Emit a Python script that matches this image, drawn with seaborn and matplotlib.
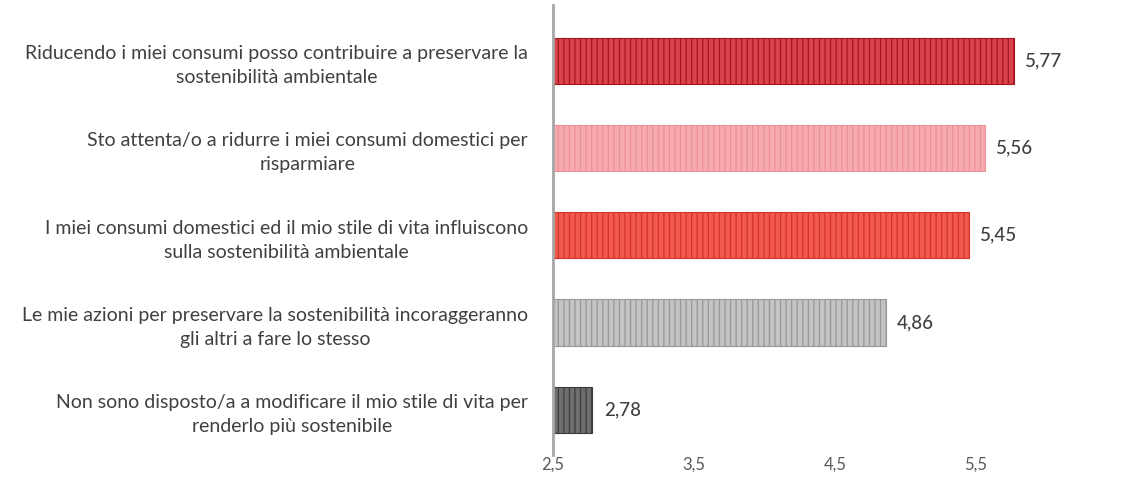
import matplotlib
matplotlib.use("Agg")
import matplotlib.pyplot as plt
import seaborn as sns
import pandas as pd

categories = [
    "Riducendo i miei consumi posso contribuire a preservare la\nsostenibilità ambientale",
    "Sto attenta/o a ridurre i miei consumi domestici per\nrisparmiare",
    "I miei consumi domestici ed il mio stile di vita influiscono\nsulla sostenibilità ambientale",
    "Le mie azioni per preservare la sostenibilità incoraggeranno\ngli altri a fare lo stesso",
    "Non sono disposto/a a modificare il mio stile di vita per\nrenderlo più sostenibile",
]
values = [5.77, 5.56, 5.45, 4.86, 2.78]
tick_values = [2.5, 3.5, 4.5, 5.5]

face_colors = ["#d9434b", "#f7aab0", "#f25a4e", "#c4c4c4", "#6e6e6e"]
hatch_colors = ["#a8141e", "#ec9098", "#d2342a", "#979797", "#3c3c3c"]

sns.set_theme(style="white")
plt.rcParams["font.family"] = ["Lato", "DejaVu Sans"]
plt.rcParams["hatch.linewidth"] = 0.9

df = pd.DataFrame({"cat": categories, "val": values})

fig = plt.figure(figsize=(11.33, 4.93), dpi=100)
ax = fig.add_axes([0.488, 0.077, 0.498, 0.913])

sns.barplot(data=df, y="cat", x="val", orient="h", ax=ax, width=0.53,
            palette=face_colors, hue="cat", legend=False)

for patch, fc, hc in zip(ax.patches, face_colors, hatch_colors):
    patch.set_facecolor(fc)
    patch.set_edgecolor(hc)
    patch.set_hatch("|||")
    patch.set_linewidth(0.8)

ax.set_xlim(2.5, 6.5)
ax.set_ylim(4.52, -0.64)
ax.set_xticks(tick_values)
ax.set_xticklabels([f"{t:.1f}".replace(".", ",") for t in tick_values],
                   fontsize=12, color="#595959")
ax.tick_params(axis="x", length=0, pad=1)
ax.tick_params(axis="y", length=0, pad=18)
for lab in ax.get_yticklabels():
    lab.set_multialignment("center")
    lab.set_fontsize(14)
    lab.set_color("#404040")
    lab.set_linespacing(1.5)
ax.set_xlabel("")
ax.set_ylabel("")

for s in ["top", "right", "bottom"]:
    ax.spines[s].set_visible(False)
ax.spines["left"].set_color("#a6a6a6")
ax.spines["left"].set_linewidth(2)

for i, v in enumerate(values):
    ax.text(v + 0.08, i, f"{v:.2f}".replace(".", ","), va="center", ha="left",
            fontsize=13.5, color="#404040", fontweight="medium")

fig.savefig("out.png", dpi=100)
